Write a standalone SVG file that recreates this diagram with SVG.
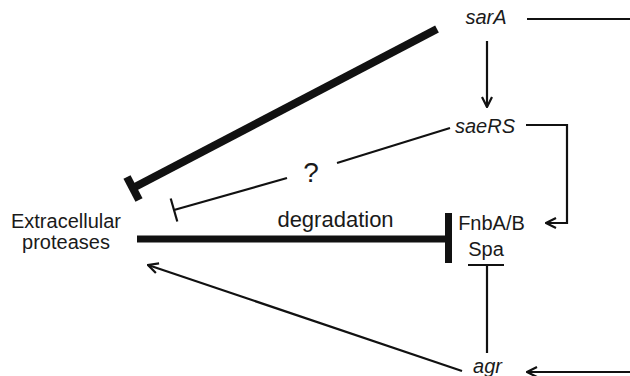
<svg xmlns="http://www.w3.org/2000/svg" width="630" height="376" viewBox="0 0 630 376">
<defs>
<style>
text{font-family:"Liberation Sans",Arial,sans-serif;font-size:20px;fill:#1a1a1a}
.it{font-style:italic}
.thin{stroke:#111;stroke-width:2.2;fill:none}
.thick{stroke:#111;stroke-width:8;fill:none}
.med{stroke:#111;stroke-width:7;fill:none}
</style>
<marker id="arr" viewBox="0 0 12 12" refX="11" refY="6" markerWidth="12" markerHeight="12" markerUnits="userSpaceOnUse" orient="auto">
<path d="M1,1 L11,6 L1,11" fill="none" stroke="#111" stroke-width="2.2"/>
</marker>
</defs>
<rect width="630" height="376" fill="#fff"/>
<g id="connectors">
<line class="thick" x1="437" y1="29" x2="133" y2="188"/>
<line class="thick" x1="127" y1="177" x2="139" y2="200"/>
<line class="med" x1="137" y1="239" x2="446" y2="239"/>
<line class="med" x1="448.5" y1="213" x2="448.5" y2="263"/>
<line class="thin" x1="450" y1="128" x2="337" y2="163"/>
<line class="thin" x1="287" y1="178" x2="174" y2="210"/>
<line class="thin" x1="170.7" y1="198.5" x2="177.3" y2="221.5"/>
<line class="thin" x1="487" y1="41" x2="487" y2="107" marker-end="url(#arr)"/>
<line class="thin" x1="527" y1="19" x2="630" y2="19"/>
<polyline class="thin" points="526,125 567,125 567,223 546,223" marker-end="url(#arr)"/>
<line class="thin" x1="630" y1="372" x2="527" y2="372" marker-end="url(#arr)"/>
<line class="thin" x1="487" y1="353" x2="487" y2="265"/>
<line class="thin" x1="468" y1="265" x2="504" y2="265"/>
<line class="thin" x1="462" y1="371" x2="148" y2="265" marker-end="url(#arr)"/>
</g>
<g id="proteases"><text x="66" y="228" text-anchor="middle">Extracellular</text><text x="66" y="249" text-anchor="middle">proteases</text></g>
<g id="sarA"><text class="it" x="486" y="24" text-anchor="middle">sarA</text></g>
<g id="saeRS"><text class="it" x="485" y="133" text-anchor="middle">saeRS</text></g>
<g id="fnb"><text x="491.5" y="230" text-anchor="middle">FnbA/B</text><text x="486" y="256" text-anchor="middle">Spa</text></g>
<g id="agr"><text class="it" x="487.5" y="373" text-anchor="middle">agr</text></g>
<g id="labels"><text x="335.5" y="227" text-anchor="middle" style="font-size:22px">degradation</text><text x="311" y="182" text-anchor="middle" style="font-size:28px">?</text></g>
</svg>
